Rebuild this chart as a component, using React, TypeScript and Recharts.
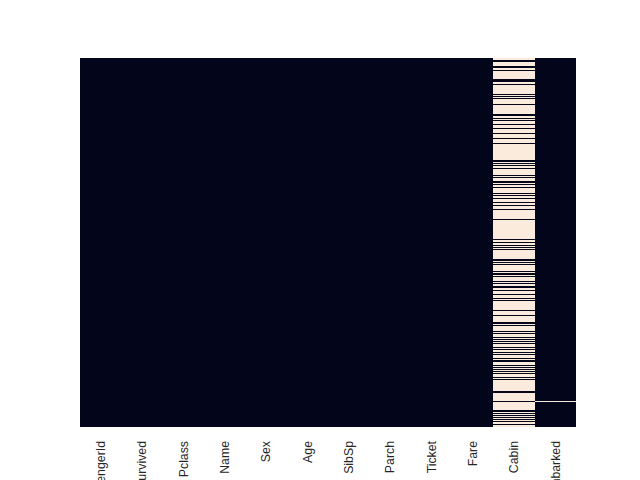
import React from 'react';
import { ComposedChart, Scatter, XAxis, YAxis, ReferenceArea, ReferenceLine } from 'recharts';

const columns = ['PassengerId', 'Survived', 'Pclass', 'Name', 'Sex', 'Age', 'SibSp', 'Parch', 'Ticket', 'Fare', 'Cabin', 'Embarked'];
const rowCount = 891;
const cabinPresentRows = [
  5, 9, 21, 23, 30, 52, 54, 56, 64, 88, 93, 97, 111, 136, 138, 146, 150, 161, 170, 182, 195, 207,
  246, 250, 255, 260, 266, 283, 289, 298, 300, 305, 312, 327, 331, 338, 348, 355, 365, 389, 438, 445,
  452, 456, 462, 485, 489, 494, 499, 514, 519, 522, 527, 538, 543, 551, 554, 560, 570, 580, 586, 609,
  622, 638, 641, 645, 661, 665, 675, 680, 685, 690, 699, 703, 711, 716, 724, 730, 732, 743, 748, 752,
  756, 761, 772, 777, 804, 807, 829, 850, 854, 858, 863, 867, 872, 878, 885,
];
const embarkedMissingRows = [829];

const DARK = '#03051A';
const CREAM = '#FAEBDD';

const missingByColumn: Record<string, Set<number>> = {};
columns.forEach((c) => (missingByColumn[c] = new Set<number>()));
const cabinPresent = new Set(cabinPresentRows);
for (let r = 0; r < rowCount; r++) if (!cabinPresent.has(r)) missingByColumn['Cabin'].add(r);
embarkedMissingRows.forEach((r) => missingByColumn['Embarked'].add(r));

const colInfo = columns.map((name, i) => {
  const missing = missingByColumn[name];
  const baseMissing = missing.size > rowCount / 2;
  const exceptions: number[] = [];
  for (let r = 0; r < rowCount; r++) {
    if (missing.has(r) !== baseMissing) exceptions.push(r);
  }
  return { name, pos: i + 0.5, mid: rowCount / 2, baseMissing, exceptions };
});

const tickPositions = colInfo.map((c) => c.pos);

const Tick = (props: any) => {
  const { x, y, payload } = props;
  const ty = y + 14;
  const label = columns[Math.floor(payload.value)];
  return (
    <text
      x={x}
      y={ty}
      dy="0.36em"
      transform={`rotate(-90, ${x}, ${ty})`}
      textAnchor="end"
      fontSize={12.3}
      fontFamily="'Liberation Sans', Arial, sans-serif"
      fill="#262626"
    >
      {label}
    </text>
  );
};

const NoShape = () => <g />;

export default function App() {
  return (
    <div style={{ position: 'absolute', left: 0, top: 0, width: 640, height: 480, background: '#fff', overflow: 'hidden' }}>
      <ComposedChart
        width={640}
        height={480}
        data={colInfo}
        margin={{ top: 58, right: 64, bottom: 0, left: 80 }}
      >
        <XAxis
          dataKey="pos"
          type="number"
          domain={[0, columns.length]}
          ticks={tickPositions}
          tick={<Tick />}
          tickLine={false}
          axisLine={false}
          tickSize={0}
          tickMargin={0}
          interval={0}
          height={53}
        />
        <YAxis dataKey="mid" type="number" domain={[0, rowCount]} reversed hide />
        {colInfo.map((c, i) => (
          <ReferenceArea
            key={`base-${c.name}`}
            x1={i}
            x2={i + 1}
            y1={0}
            y2={rowCount}
            fill={c.baseMissing ? CREAM : DARK}
            fillOpacity={1}
            stroke="none"
            shapeRendering="crispEdges"
            ifOverflow="visible"
          />
        ))}
        {colInfo.flatMap((c, i) =>
          c.exceptions.map((r) => (
            <ReferenceLine
              key={`${c.name}-${r}`}
              segment={[
                { x: i, y: r + 0.5 },
                { x: i + 1, y: r + 0.5 },
              ]}
              stroke={c.baseMissing ? DARK : CREAM}
              strokeWidth={1}
              shapeRendering="crispEdges"
              ifOverflow="visible"
            />
          ))
        )}
        <Scatter dataKey="mid" isAnimationActive={false} shape={<NoShape />} />
      </ComposedChart>
    </div>
  );
}
